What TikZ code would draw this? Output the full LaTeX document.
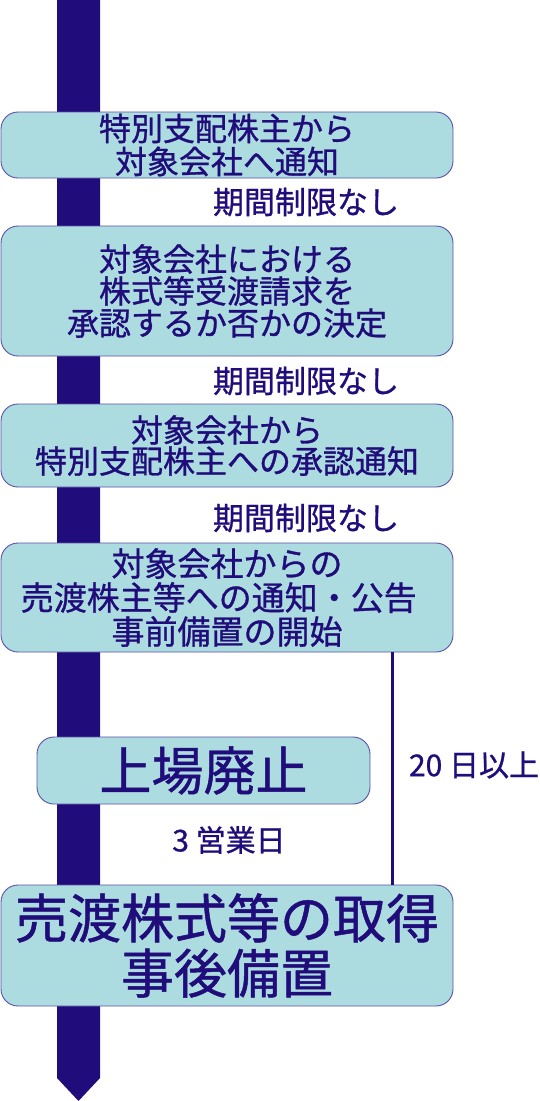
\documentclass[tikz,border=0pt]{standalone}
\usepackage{fontspec}
\setmainfont{Noto Sans CJK JP}[FakeBold=0.9]

\definecolor{flowink}{RGB}{32,12,122}
\definecolor{flowfill}{RGB}{172,220,223}
\definecolor{flowedge}{RGB}{90,80,168}

\tikzset{
  stepbox/.style={draw=flowedge, line width=0.9pt, fill=flowfill,
    rounded corners=17pt, text=flowink, align=center, inner sep=0pt},
  gaplabel/.style={text=flowink, inner sep=0pt},
}

\begin{document}
\begin{tikzpicture}[x=1pt, y=-1pt]
      \useasboundingbox (0,0) rectangle (540,1101);

      % Time arrow
      \fill[flowink] (57,0) -- (100,0) -- (100,1078) -- (78.5,1101) -- (57,1078) -- cycle;

      % Steps
      \node[stepbox, minimum width=452pt, minimum height=66pt,
            font=\fontsize{32}{33}\selectfont] (notice) at (227,145)
        {特別支配株主から\\対象会社へ通知};
      \node[stepbox, minimum width=452pt, minimum height=130pt,
            font=\fontsize{32}{32}\selectfont] (approval) at (227,291)
        {対象会社における\\株式等受渡請求を\\承認するか否かの決定};
      \node[stepbox, minimum width=452pt, minimum height=83pt,
            font=\fontsize{32}{31}\selectfont] (reply) at (227,445.5)
        {対象会社から\\特別支配株主への承認通知};
      \node[stepbox, minimum width=452pt, minimum height=109pt,
            font=\fontsize{33}{34}\selectfont] (announce) at (227,597.5)
        {対象会社からの\\売渡株主等への通知・公告\kern0.5em\\事前備置の開始};
      \node[stepbox, minimum width=333pt, minimum height=67pt,
            font=\fontsize{52}{54}\selectfont] (delist) at (203.5,770.5)
        {上場廃止};
      \node[stepbox, minimum width=452pt, minimum height=121pt,
            font=\fontsize{53}{55}\selectfont] (acquire) at (227,945.5)
        {売渡株式等の取得\\事後備置};

      % Periods between steps
      \node[gaplabel, font=\fontsize{31}{31}\selectfont] (gap1) at (306,202) {期間制限なし};
      \node[gaplabel, font=\fontsize{31}{31}\selectfont] (gap2) at (306,381) {期間制限なし};
      \node[gaplabel, font=\fontsize{31}{31}\selectfont] (gap3) at (306,518) {期間制限なし};
      \node[gaplabel, font=\fontsize{30}{30}\selectfont] (days3) at (229,840) {3 営業日};

      % Notice period bracket
      \coordinate (span) at (392,0);
      \draw[flowink, line width=3pt] (announce.south -| span) -- (acquire.north -| span);
      \node[gaplabel, font=\fontsize{30}{30}\selectfont] (days20) at (474,765) {20 日以上};
    \end{tikzpicture}
\end{document}
